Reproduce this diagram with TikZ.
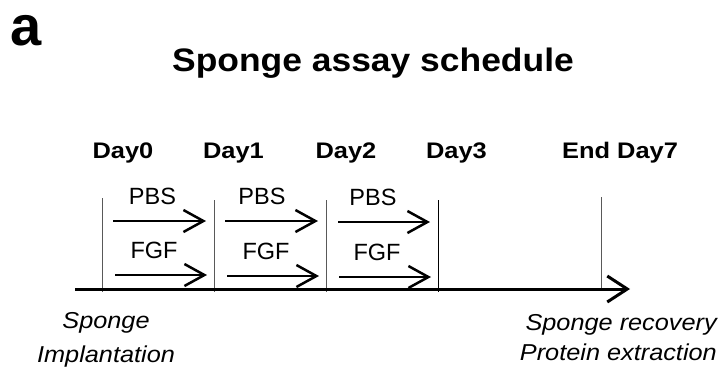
\documentclass[tikz,border=0pt]{standalone}
\usepackage{fontspec}
\setmainfont{Liberation Sans}
\usetikzlibrary{arrows.meta}
\tikzset{
  bold/.style={font=\fontsize{22.5}{24}\selectfont\bfseries, anchor=base, inner sep=0pt},
  reg/.style={font=\fontsize{23.5}{25}\selectfont, anchor=base, inner sep=0pt},
  ital/.style={font=\fontsize{23}{25}\selectfont\itshape, anchor=base, inner sep=0pt},
  tick/.style={line width=1pt, draw=gray!70!black},
  treat/.style={line width=2.5pt, -{Straight Barb[length=20pt,width=22pt,line width=2.5pt]}},
  axis/.style={line width=3pt, -{Straight Barb[length=20pt,width=26pt,line width=3pt]}}
}
\newcommand{\wid}[2]{\scalebox{#1}[1]{#2}}
\begin{document}
\begin{tikzpicture}[x=1pt,y=-1pt]
\useasboundingbox (0,0) rectangle (719,370);
% labels
\node[anchor=base west, inner sep=0pt, font=\fontsize{56}{60}\selectfont\bfseries] (lbl) at (10,45) {a};
\node[anchor=base, inner sep=0pt, font=\fontsize{32.5}{36}\selectfont\bfseries] (title) at (373,71) {\wid{1.09}{Sponge assay schedule}};
% day labels
\node[bold] (d0) at (123,158) {\wid{1.13}{Day0}};
\node[bold] (d1) at (233.5,158) {\wid{1.13}{Day1}};
\node[bold] (d2) at (346,158) {\wid{1.13}{Day2}};
\node[bold] (d3) at (456.5,158) {\wid{1.13}{Day3}};
\node[bold] (d7) at (620,158) {\wid{1.13}{End Day7}};
% ticks
\coordinate (t0a) at (102,198); \coordinate (t0b) at (102,292);
\coordinate (t1a) at (214,200); \coordinate (t1b) at (214,292);
\coordinate (t2a) at (326,200); \coordinate (t2b) at (326,292);
\coordinate (t3a) at (438,200); \coordinate (t3b) at (438,292);
\coordinate (t7a) at (601,197); \coordinate (t7b) at (601,289);
\draw[tick] (t0a) -- (t0b);
\draw[tick] (t1a) -- (t1b);
\draw[tick] (t2a) -- (t2b);
\draw[tick, draw=black] (t3a) -- (t3b);
\draw[tick] (t7a) -- (t7b);
% axis
\coordinate (axs) at (75,289);
\coordinate (axe) at (630,289);
\draw[axis] (axs) -- (axe);
% treatment arrows
\coordinate (p1s) at (113,221); \coordinate (p1e) at (206,221);
\coordinate (p2s) at (225,221); \coordinate (p2e) at (318,221);
\coordinate (p3s) at (338,222); \coordinate (p3e) at (430,222);
\coordinate (f1s) at (115,275); \coordinate (f1e) at (207,275);
\coordinate (f2s) at (227,276); \coordinate (f2e) at (319,276);
\coordinate (f3s) at (339,277); \coordinate (f3e) at (431,277);
\draw[treat] (p1s) -- (p1e);
\draw[treat] (p2s) -- (p2e);
\draw[treat] (p3s) -- (p3e);
\draw[treat] (f1s) -- (f1e);
\draw[treat] (f2s) -- (f2e);
\draw[treat] (f3s) -- (f3e);
\node[reg] (pbs1) at (152.5,204) {PBS};
\node[reg] (pbs2) at (262,204) {PBS};
\node[reg] (pbs3) at (373,205) {PBS};
\node[reg] (fgf1) at (154,258) {FGF};
\node[reg] (fgf2) at (266,259) {FGF};
\node[reg] (fgf3) at (377,260) {FGF};
% bottom texts
\node[ital] (sp1) at (106,328) {\wid{1.1}{Sponge}};
\node[ital] (imp) at (106,362) {\wid{1.1}{Implantation}};
\node[ital, anchor=base east] (rec) at (717,330) {\wid{1.1}{Sponge recovery}};
\node[ital, anchor=base east] (pro) at (717,360) {\wid{1.1}{Protein extraction}};
\end{tikzpicture}
\end{document}
